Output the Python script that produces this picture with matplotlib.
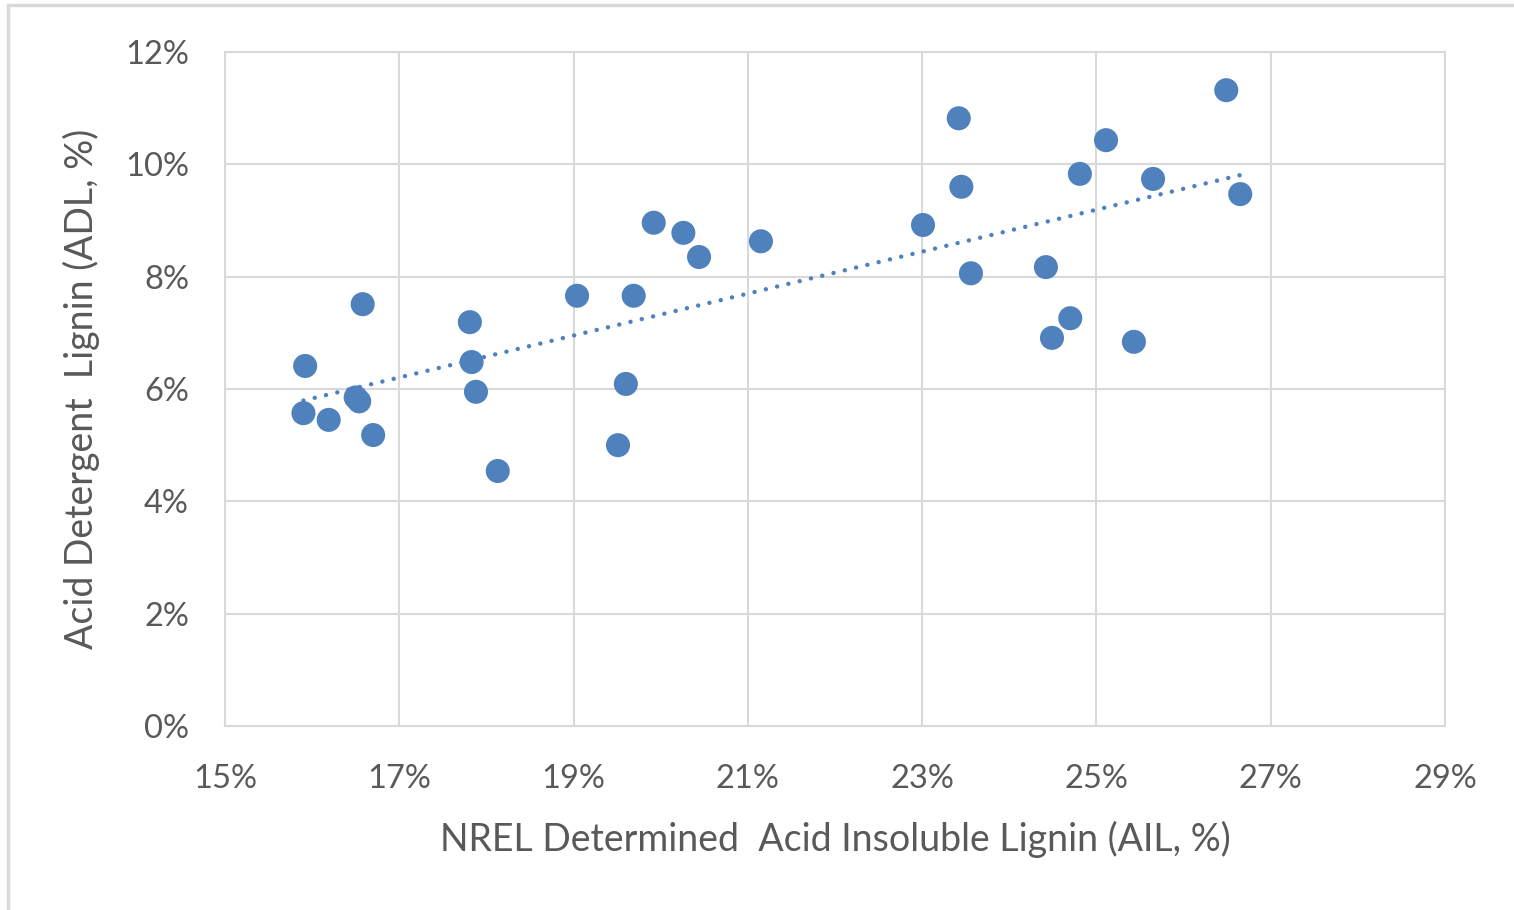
import matplotlib
matplotlib.use("Agg")
import matplotlib.pyplot as plt
from matplotlib.patches import Rectangle
from matplotlib.ticker import FuncFormatter
import numpy as np

# NREL acid insoluble lignin vs acid detergent lignin, both in %
ail = [15.92, 15.90, 16.19, 16.50, 16.54, 16.58, 16.70, 17.81, 17.83, 17.88,
       18.13, 19.04, 19.51, 19.60, 19.69, 19.92, 20.26, 20.44, 21.15, 23.01,
       23.42, 23.45, 23.56, 24.42, 24.49, 24.70, 24.81, 25.11, 25.43, 25.65,
       26.49, 26.65]
adl = [6.41, 5.57, 5.45, 5.85, 5.78, 7.51, 5.18, 7.19, 6.48, 5.95,
       4.54, 7.66, 5.00, 6.09, 7.66, 8.96, 8.78, 8.35, 8.63, 8.92,
       10.82, 9.60, 8.06, 8.17, 6.91, 7.26, 9.83, 10.43, 6.84, 9.74,
       11.32, 9.47]

x_ticks = [15, 17, 19, 21, 23, 25, 27, 29]
y_ticks = [0, 2, 4, 6, 8, 10, 12]

blue = '#4f81bd'
grey_txt = '#595959'
grey_line = '#d9d9d9'

plt.rcParams['font.family'] = ['Lato', 'DejaVu Sans']

fig = plt.figure(figsize=(15.14, 9.10), dpi=100)
ax = fig.add_axes([225/1514, 1 - 726/910, 1220/1514, 674/910])

ax.scatter(ail, adl, s=300, color=blue, edgecolors='none', zorder=3)

# linear trendline
x = np.array(ail)
k, b = np.polyfit(x, np.array(adl), 1)
xt = np.array([x.min(), x.max()])
ax.plot(xt, k*xt + b, color=blue, lw=3.2, linestyle=(0, (0.01, 2.6)),
        dash_capstyle='round', zorder=2)

ax.set_xlim(15, 29)
ax.set_ylim(0, 12)
ax.set_xticks(x_ticks)
ax.set_yticks(y_ticks)
pct = FuncFormatter(lambda v, p: '%d%%' % v)
ax.xaxis.set_major_formatter(pct)
ax.yaxis.set_major_formatter(pct)
ax.tick_params(length=0, labelsize=23.5, colors=grey_txt)
ax.tick_params(axis='x', pad=27)
ax.tick_params(axis='y', pad=26)

ax.grid(True, color=grey_line, lw=1.5, zorder=0)
ax.set_axisbelow(True)
for sp in ax.spines.values():
    sp.set_color(grey_line)
    sp.set_linewidth(1.5)

ax.set_xlabel('NREL Determined  Acid Insoluble Lignin (AIL, %)', fontsize=27,
              color=grey_txt, labelpad=20)
ax.set_ylabel('Acid Detergent  Lignin (ADL, %)', fontsize=27,
              color=grey_txt, labelpad=18)

# chart frame
fig.add_artist(Rectangle((8/1514, -0.1), 1.2, 1.1 - 5/910, transform=fig.transFigure,
                         fill=False, edgecolor=grey_line, lw=2.5, clip_on=False))

fig.savefig('out.png', dpi=100)
